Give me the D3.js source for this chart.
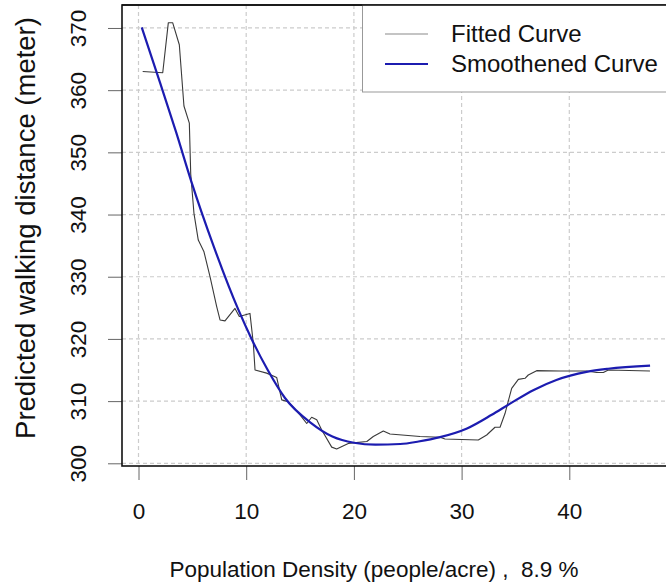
<!DOCTYPE html>
<html>
<head>
<meta charset="utf-8">
<script src="https://cdn.jsdelivr.net/npm/d3@7"></script>
<style>
  html, body { margin: 0; padding: 0; background: #ffffff; }
  svg { display: block; font-family: "Liberation Sans", Arial, sans-serif; }
  text { white-space: pre; }
</style>
</head>
<body>
<svg id="chart" width="666" height="588"></svg>
<script>
// ---- data ----
const fittedX = [0.39, 2.25, 2.77, 3.17, 3.79, 4.22, 4.72, 4.85, 5.15, 5.55, 6.08, 6.64, 7.26, 7.57, 8.03, 8.96, 9.36, 10.35, 10.66, 10.82, 11.9, 12.83, 13.3, 13.9, 15.0, 15.62, 16.08, 16.55, 17.0, 17.94, 18.4, 19.48, 21.2, 21.8, 22.73, 23.35, 26.14, 28.0, 28.46, 31.55, 32.33, 33.1, 33.57, 34.03, 34.65, 35.27, 35.89, 36.19, 36.97, 39.14, 41.61, 42.54, 43.16, 43.62, 47.49];
const fittedY = [363.0, 362.8, 370.85, 370.85, 367.3, 357.45, 354.7, 346.5, 340.2, 335.9, 334.0, 330.0, 325.2, 323.05, 322.9, 324.9, 323.6, 324.1, 319.3, 315.0, 314.5, 313.8, 310.2, 309.9, 307.8, 306.4, 307.4, 307.0, 305.4, 302.6, 302.3, 303.2, 303.5, 304.3, 305.2, 304.7, 304.3, 304.2, 303.9, 303.75, 304.55, 305.8, 305.8, 308.0, 312.06, 313.5, 313.67, 314.2, 314.9, 314.85, 314.85, 314.6, 314.6, 315.0, 314.85];
const smoothX = [0.3, 2.0, 3.5, 4.87, 7.0, 9.27, 10.5, 12.0, 13.6, 16.0, 18.0, 20.0, 22.0, 24.3, 26.0, 28.0, 30.5, 32.8, 34.5, 36.7, 38.8, 41.6, 43.6, 47.5];
const smoothY = [370.1, 361.2, 353.2, 345.5, 334.8, 324.7, 320.0, 315.0, 310.5, 306.5, 304.3, 303.3, 303.0, 303.1, 303.5, 304.2, 305.6, 307.8, 309.6, 311.8, 313.4, 314.7, 315.2, 315.7];
const xTicks = [0, 10, 20, 30, 40];
const yTicks = [300, 310, 320, 330, 340, 350, 360, 370];
const xLabel = "Population Density (people/acre) ,  8.9 %";
const yLabel = "Predicted walking distance (meter)";
const legendLabels = ["Fitted Curve", "Smoothened Curve"];

// ---- layout ----
const W = 666, H = 588;
const box = { left: 122, top: 5, right: 668, bottom: 466 };
const x0px = 138.5, pxPerUnit = 10.77;
const y300 = 463.3, pxPerUnitY = 6.219;

const x = d3.scaleLinear()
  .domain([(box.left - x0px) / pxPerUnit, (box.right - x0px) / pxPerUnit])
  .range([box.left, box.right]);
const y = d3.scaleLinear()
  .domain([300 - (box.bottom - y300) / pxPerUnitY, 300 + (y300 - box.top) / pxPerUnitY])
  .range([box.bottom, box.top]);

const svg = d3.select("#chart");
svg.append("rect").attr("width", W).attr("height", H).attr("fill", "#fff");

// grid
const grid = svg.append("g").attr("stroke", "#cccccc").attr("stroke-width", 1.2)
  .attr("stroke-dasharray", "4,3").attr("fill", "none");
grid.selectAll("line.gx").data(xTicks).join("line").attr("class", "gx")
  .attr("x1", d => x(d)).attr("x2", d => x(d))
  .attr("y1", box.top).attr("y2", box.bottom);
grid.selectAll("line.gy").data(yTicks).join("line").attr("class", "gy")
  .attr("x1", box.left).attr("x2", box.right)
  .attr("y1", d => y(d)).attr("y2", d => y(d));

// axes (R style: ticks outside box)
const xAxis = d3.axisBottom(x).tickValues(xTicks).tickSize(14).tickPadding(23).tickFormat(d3.format("d"));
const gx = svg.append("g").attr("transform", `translate(0,${box.bottom})`).call(xAxis);
gx.select(".domain").remove();
gx.selectAll(".tick line").attr("stroke", "#666").attr("stroke-width", 1);
gx.selectAll(".tick text").attr("font-size", 22.5).attr("fill", "#111")
  .attr("font-family", "'Liberation Sans', Arial, sans-serif");

const yAxis = d3.axisLeft(y).tickValues(yTicks).tickSize(14).tickFormat(d3.format("d"));
const gy = svg.append("g").attr("transform", `translate(${box.left},0)`).call(yAxis);
gy.select(".domain").remove();
gy.selectAll(".tick line").attr("stroke", "#666").attr("stroke-width", 1);
gy.selectAll(".tick text")
  .attr("font-size", 22.5).attr("fill", "#111")
  .attr("font-family", "'Liberation Sans', Arial, sans-serif")
  .attr("text-anchor", "middle")
  .attr("x", 0).attr("dy", "0.35em")
  .attr("transform", "translate(-44,0) rotate(-90)");

// curves
const fittedData = fittedX.map((v, i) => [v, fittedY[i]]);
const smoothData = smoothX.map((v, i) => [v, smoothY[i]]);

svg.append("path").datum(fittedData)
  .attr("d", d3.line().x(d => x(d[0])).y(d => y(d[1])).curve(d3.curveLinear))
  .attr("fill", "none").attr("stroke", "#3a3a3a").attr("stroke-width", 1.1)
  .attr("stroke-linejoin", "round");
svg.append("path").datum(smoothData)
  .attr("d", d3.line().x(d => x(d[0])).y(d => y(d[1])).curve(d3.curveMonotoneX))
  .attr("fill", "none").attr("stroke", "#1c1cb0").attr("stroke-width", 2.2);

// plot box
svg.append("rect").attr("x", box.left).attr("y", box.top)
  .attr("width", box.right - box.left).attr("height", box.bottom - box.top)
  .attr("fill", "none").attr("stroke", "#111").attr("stroke-width", 1.6);

// legend
const lg = svg.append("g");
lg.append("rect").attr("x", 362.5).attr("y", box.top).attr("width", box.right - 362.5).attr("height", 87)
  .attr("fill", "#fff").attr("stroke", "#999").attr("stroke-width", 1);
svg.append("line").attr("x1", box.left).attr("x2", box.right).attr("y1", box.top).attr("y2", box.top)
  .attr("stroke", "#111").attr("stroke-width", 1.6);
const legColors = ["#b0b0b0", "#1c1cb0"];
const legY = [34, 64];
legendLabels.forEach((t, i) => {
  lg.append("line").attr("x1", 385).attr("x2", 428).attr("y1", legY[i]).attr("y2", legY[i])
    .attr("stroke", legColors[i]).attr("stroke-width", i === 0 ? 1.5 : 2.2);
  lg.append("text").attr("x", 451).attr("y", legY[i]).attr("dy", "0.35em")
    .attr("font-size", 24).attr("fill", "#111").text(t);
});

// axis labels
svg.append("text").attr("x", 374).attr("y", 577).attr("text-anchor", "middle")
  .attr("font-size", 22.5).attr("fill", "#111").text(xLabel);
svg.append("text").attr("transform", `translate(25,228) rotate(-90)`)
  .attr("text-anchor", "middle").attr("dy", "0.35em")
  .attr("font-size", 27.5).attr("fill", "#111").text(yLabel);
</script>
</body>
</html>
